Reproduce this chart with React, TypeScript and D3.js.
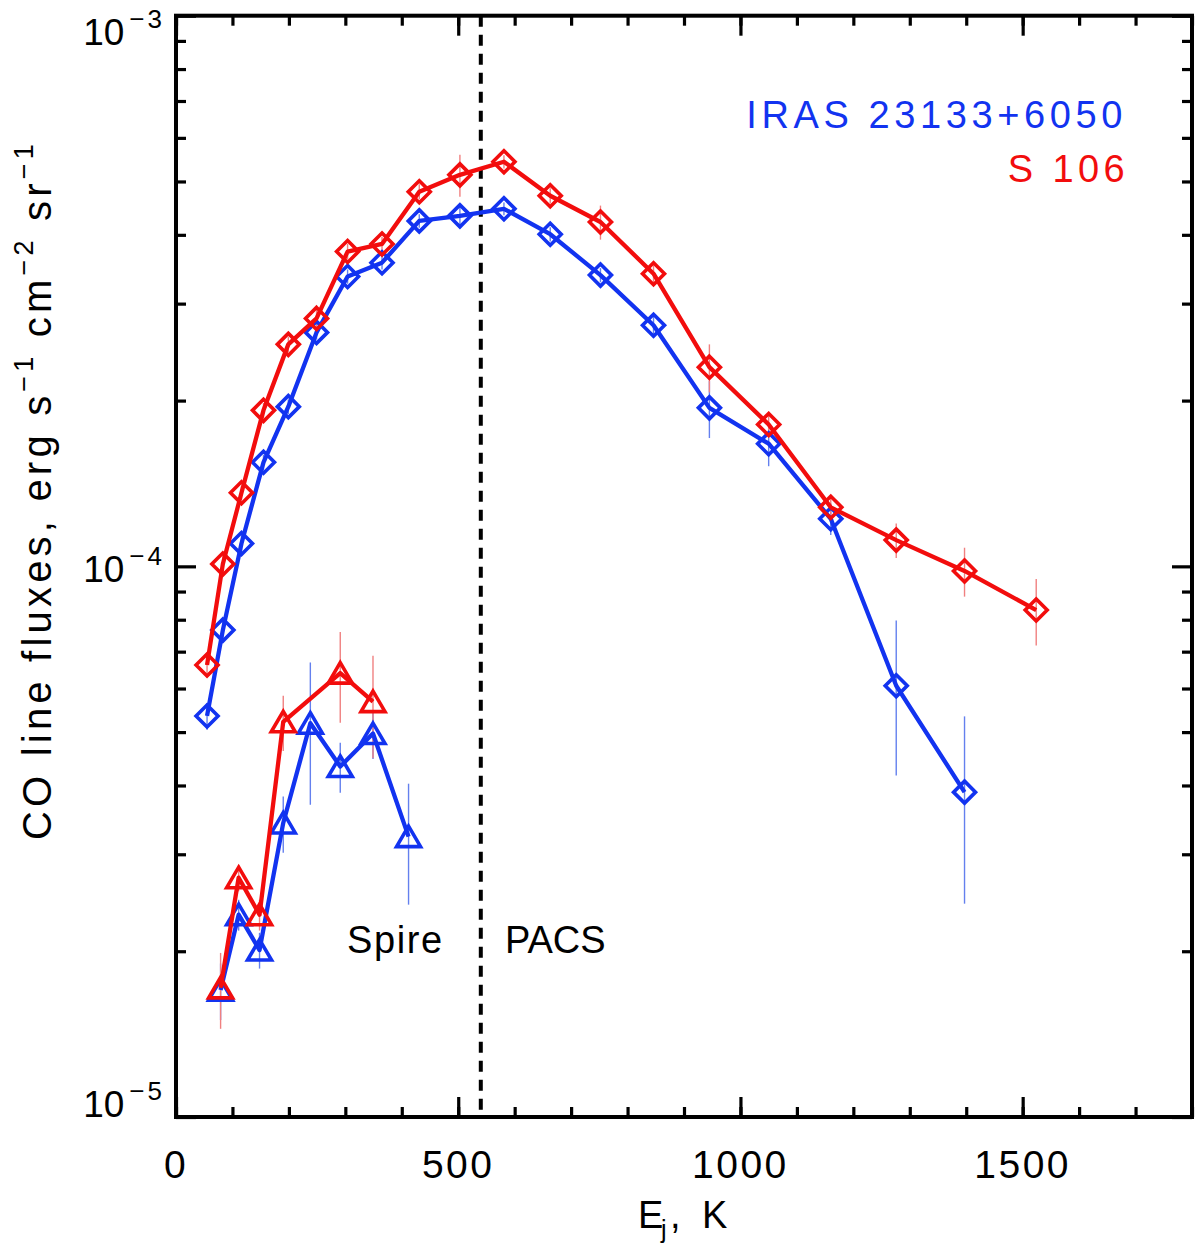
import { useEffect, useRef } from 'react';
import * as d3 from 'd3';

// 12CO upper level energies (K)
const E12 = [55, 83, 116, 155, 199, 249, 304, 365, 431, 503, 581, 663, 752, 846, 945, 1050, 1160, 1276, 1397, 1524];
const s106CO = [6.62e-5, 1.01e-4, 1.36e-4, 1.92e-4, 2.53e-4, 2.82e-4, 3.73e-4, 3.85e-4, 4.79e-4, 5.14e-4,
  5.43e-4, 4.71e-4, 4.22e-4, 3.40e-4, 2.30e-4, 1.81e-4, 1.28e-4, 1.116e-4, 9.81e-5, 8.33e-5];
const s106COErr = [3e-6, 4e-6, 4e-6, 6e-6, 8e-6, 1e-5, 1.2e-5, 1.2e-5, 1.5e-5, 4.5e-5,
  1.5e-5, 1.5e-5, 3e-5, 1.2e-5, 2.3e-5, 1e-5, 6e-6, 8e-6, 1e-5, 1.15e-5];
const irasCO = [5.35e-5, 7.66e-5, 1.10e-4, 1.545e-4, 1.95e-4, 2.66e-4, 3.36e-4, 3.56e-4, 4.24e-4, 4.33e-4,
  4.46e-4, 4.01e-4, 3.38e-4, 2.74e-4, 1.94e-4, 1.67e-4, 1.22e-4, 6.07e-5, 3.89e-5];
const irasCOErr = [3e-6, 3e-6, 4e-6, 5e-6, 6e-6, 8e-6, 1e-5, 1e-5, 1.2e-5, 1.8e-5,
  1.2e-5, 1.2e-5, 1e-5, 1e-5, 2.3e-5, 1.5e-5, 8e-6, 1.9e-5, 1.45e-5];

// 13CO (Spire)
const E13s106 = [79, 111, 148, 190, 291, 349];
const s106_13CO = [1.716e-5, 2.72e-5, 2.33e-5, 5.22e-5, 6.4e-5, 5.68e-5];
const s106_13COErr = [2.7e-6, 1.5e-6, 1.5e-6, 6e-6, 1.2e-5, 1.2e-5];
const E13iras = [79, 111, 148, 190, 238, 291, 349, 412];
const iras_13CO = [1.70e-5, 2.33e-5, 2.01e-5, 3.42e-5, 5.19e-5, 4.33e-5, 4.97e-5, 3.23e-5];
const iras_13COErr = [2e-6, 1.5e-6, 1.5e-6, 4e-6, 1.5e-5, 4.5e-6, 5e-6, 8e-6];

const xMajor = [0, 500, 1000, 1500];
const xMinor = d3.range(0, 1801, 100);
const yMajor = [1e-3, 1e-4, 1e-5];
const yMinor = [2, 3, 4, 5, 6, 7, 8, 9].flatMap(m => [m * 1e-5, m * 1e-4]);
const spirePacsBoundary = 540;

const RED = '#f20d0d';
const BLUE = '#1233f0';
const RED_ERR = '#f08080';
const BLUE_ERR = '#6480ee';
const FONT = '"Liberation Sans", Arial, sans-serif';

type Pt = { e: number; v: number; err: number };
const zipPts = (e: number[], v: number[], err: number[]): Pt[] => v.map((val, i) => ({ e: e[i], v: val, err: err[i] }));

function COChart() {
  const svgRef = useRef<SVGSVGElement>(null);

  useEffect(() => {
    if (!svgRef.current) return;
    const width = 1200, height = 1248;
    const L = 176, R = 1192, T = 15.7, B = 1117;

    const svg = d3.select(svgRef.current);
    svg.selectAll('*').remove();
    svg.attr('width', width).attr('height', height);

    const x = d3.scaleLinear().domain([0, 1800]).range([L, R]);
    const y = d3.scaleLog().domain([1e-5, 1e-3]).range([B, T]);

    // tick marks on all four sides, pointing inward
    const tickStyle = (s: d3.Selection<SVGGElement, unknown, null, undefined>) => {
      s.select('.domain').remove();
      s.selectAll('line').attr('stroke', '#000').attr('stroke-width', 3.2);
      s.selectAll('text').remove();
    };
    const ticks = svg.append('g');
    ticks.append('g').attr('transform', `translate(0,${B})`)
      .call(d3.axisBottom(x).tickValues(xMinor).tickSize(-10)).call(tickStyle);
    ticks.append('g').attr('transform', `translate(0,${B})`)
      .call(d3.axisBottom(x).tickValues(xMajor).tickSize(-20)).call(tickStyle);
    ticks.append('g').attr('transform', `translate(0,${T})`)
      .call(d3.axisTop(x).tickValues(xMinor).tickSize(-10)).call(tickStyle);
    ticks.append('g').attr('transform', `translate(0,${T})`)
      .call(d3.axisTop(x).tickValues(xMajor).tickSize(-20)).call(tickStyle);
    ticks.append('g').attr('transform', `translate(${L},0)`)
      .call(d3.axisLeft(y).tickValues(yMinor).tickSize(-10)).call(tickStyle);
    ticks.append('g').attr('transform', `translate(${L},0)`)
      .call(d3.axisLeft(y).tickValues(yMajor).tickSize(-20)).call(tickStyle);
    ticks.append('g').attr('transform', `translate(${R},0)`)
      .call(d3.axisRight(y).tickValues(yMinor).tickSize(-10)).call(tickStyle);
    ticks.append('g').attr('transform', `translate(${R},0)`)
      .call(d3.axisRight(y).tickValues(yMajor).tickSize(-20)).call(tickStyle);

    svg.append('rect').attr('x', L).attr('y', T).attr('width', R - L).attr('height', B - T)
      .attr('fill', 'none').attr('stroke', '#000').attr('stroke-width', 4);

    // tick labels
    svg.append('g').selectAll('text').data(xMajor).join('text')
      .attr('x', d => x(d)).attr('y', B + 61)
      .attr('text-anchor', 'middle').attr('font-family', FONT).attr('font-size', 39)
      .attr('letter-spacing', 2.5).text(d => d);

    const yLabelShift: Record<number, number> = { [-3]: 29, [-4]: 16, [-5]: 0 };
    const yl = svg.append('g').selectAll('text').data(yMajor).join('text')
      .attr('x', 165).attr('y', d => y(d) + yLabelShift[Math.round(Math.log10(d))])
      .attr('text-anchor', 'end').attr('font-family', FONT).attr('font-size', 37);
    yl.append('tspan').text('10');
    yl.append('tspan').attr('dx', 5).attr('dy', -17).attr('font-size', 26).attr('letter-spacing', 3)
      .text(d => `\u2212${-Math.round(Math.log10(d))}`);

    // axis titles
    const xt = svg.append('text').attr('y', 1228).attr('font-family', FONT).attr('font-size', 38);
    xt.append('tspan').attr('x', 638).text('E');
    xt.append('tspan').attr('x', 661).attr('dy', 10).attr('font-size', 25).text('j');
    xt.append('tspan').attr('x', 670).attr('dy', -10).text(',');
    xt.append('tspan').attr('x', 702).text('K');

    const yt = svg.append('text').attr('transform', 'rotate(-90)')
      .attr('x', -840).attr('y', 51).attr('font-family', FONT).attr('font-size', 40)
      .attr('letter-spacing', 4.2);
    const parts: [string, boolean][] = [
      ['CO line fluxes, erg s', false], ['\u22121', true], [' cm', false], ['\u22122', true],
      [' sr', false], ['\u22121', true],
    ];
    parts.forEach(([t, sup], i) => {
      const sp = yt.append('tspan').text(t);
      if (sup) sp.attr('font-size', 27).attr('dy', -18);
      else if (i > 0) sp.attr('dy', 18);
    });

    // Spire / PACS boundary
    svg.append('line').attr('x1', x(spirePacsBoundary)).attr('x2', x(spirePacsBoundary))
      .attr('y1', T).attr('y2', B).attr('stroke', '#000').attr('stroke-width', 4)
      .attr('stroke-dasharray', '11,8');
    svg.append('text').attr('x', 347).attr('y', 953).attr('font-family', FONT).attr('font-size', 38)
      .attr('letter-spacing', 1.6).text('Spire');
    svg.append('text').attr('x', 505).attr('y', 953).attr('font-family', FONT).attr('font-size', 38)
      .text('PACS');

    // legend
    svg.append('text').attr('x', 1127).attr('y', 128).attr('text-anchor', 'end')
      .attr('font-family', FONT).attr('font-size', 38).attr('letter-spacing', 4.6)
      .attr('fill', BLUE).text('IRAS 23133+6050');
    svg.append('text').attr('x', 1129).attr('y', 182).attr('text-anchor', 'end')
      .attr('font-family', FONT).attr('font-size', 38).attr('letter-spacing', 4.4)
      .attr('fill', RED).text('S 106');

    const line = d3.line<Pt>().x(d => x(d.e)).y(d => y(d.v));
    const diamond = 'M0,-11L11,0L0,11L-11,0Z';
    const triangle = 'M0,-10.5L12,10L-12,10Z';

    const series = [
      { pts: zipPts(E12, irasCO, irasCOErr), color: BLUE, errColor: BLUE_ERR, sym: diamond },
      { pts: zipPts(E13iras, iras_13CO, iras_13COErr), color: BLUE, errColor: BLUE_ERR, sym: triangle },
      { pts: zipPts(E12, s106CO, s106COErr), color: RED, errColor: RED_ERR, sym: diamond },
      { pts: zipPts(E13s106, s106_13CO, s106_13COErr), color: RED, errColor: RED_ERR, sym: triangle },
    ];

    const errG = svg.append('g');
    series.forEach(s => {
      errG.append('g').selectAll('line').data(s.pts).join('line')
        .attr('x1', d => x(d.e)).attr('x2', d => x(d.e))
        .attr('y1', d => y(d.v + d.err)).attr('y2', d => y(Math.max(d.v - d.err, 1e-6)))
        .attr('stroke', s.errColor).attr('stroke-width', 1.4);
    });

    series.forEach(s => {
      const g = svg.append('g');
      g.append('path').datum(s.pts).attr('fill', 'none').attr('stroke', s.color)
        .attr('stroke-width', 4.3).attr('stroke-linejoin', 'round').attr('d', line);
      g.selectAll('path.m').data(s.pts).join('path').attr('class', 'm')
        .attr('transform', d => `translate(${x(d.e)},${y(d.v)})`)
        .attr('d', s.sym).attr('fill', 'none').attr('stroke', s.color).attr('stroke-width', 3.6);
    });
  }, []);

  return <svg ref={svgRef} style={{ display: 'block' }} />;
}

export default function App() {
  return (
    <div style={{ position: 'absolute', left: 0, top: 0, background: '#fff' }}>
      <COChart />
    </div>
  );
}
